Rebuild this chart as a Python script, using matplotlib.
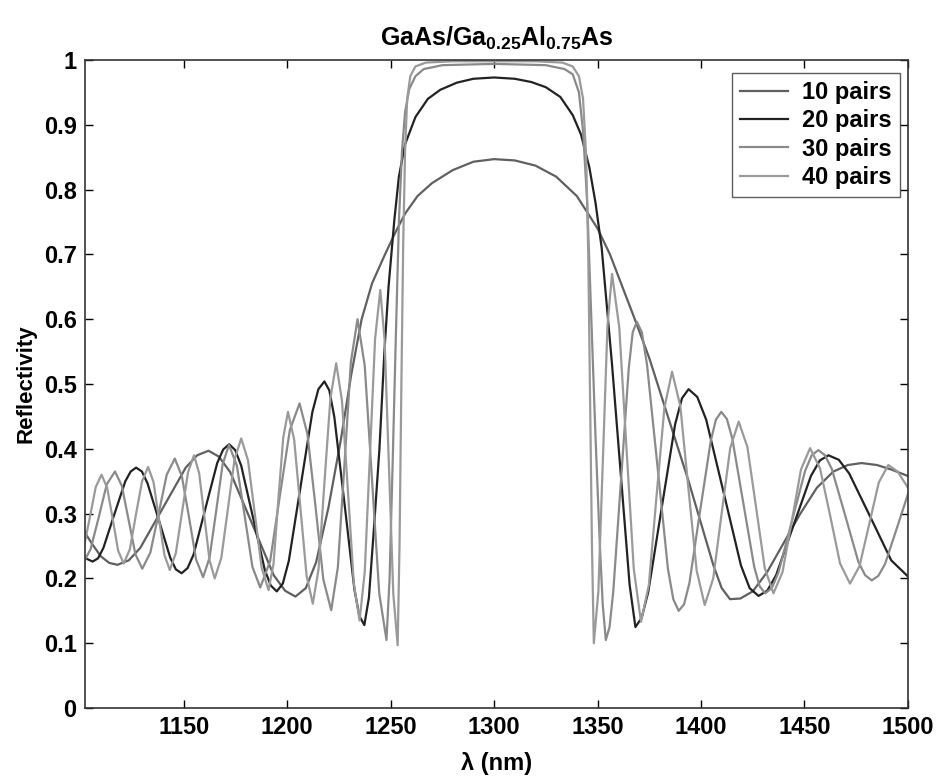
import matplotlib
matplotlib.use("Agg")
import matplotlib.pyplot as plt

plt.rcParams['font.family'] = ['Liberation Sans', 'DejaVu Sans']
plt.rcParams['font.weight'] = 'bold'
plt.rcParams['mathtext.fontset'] = 'custom'
plt.rcParams['mathtext.rm'] = 'Liberation Sans:bold'
plt.rcParams['mathtext.bf'] = 'Liberation Sans:bold'

# (wavelength nm, reflectivity)
pts_10 = [(1102, 0.272), (1106, 0.252), (1110, 0.234), (1114, 0.224), (1118, 0.221),
          (1123.5, 0.228), (1129, 0.247), (1140, 0.309), (1151, 0.371), (1156.5, 0.390),
          (1162, 0.397), (1167, 0.388), (1172.5, 0.364), (1183, 0.285), (1193.5, 0.205),
          (1199, 0.181), (1204, 0.172), (1209, 0.185), (1214, 0.225), (1220, 0.31),
          (1226, 0.415), (1231, 0.515), (1236, 0.60), (1241, 0.655), (1247, 0.698),
          (1252, 0.732), (1257, 0.763), (1263, 0.79), (1270, 0.81), (1280, 0.83),
          (1290, 0.843), (1300, 0.847), (1310, 0.845), (1320, 0.837), (1330, 0.82),
          (1340, 0.79), (1350, 0.74), (1356, 0.70), (1362, 0.65), (1368, 0.60),
          (1375, 0.54), (1382, 0.47), (1388, 0.41), (1394, 0.35), (1400, 0.285),
          (1406, 0.22), (1410, 0.185), (1414, 0.168), (1419, 0.169), (1425, 0.18),
          (1432, 0.21), (1440, 0.255), (1448, 0.30), (1456, 0.34), (1464, 0.365),
          (1471, 0.375), (1477.6, 0.378), (1485, 0.375), (1492, 0.368), (1500, 0.358)]

pts_20 = [(1102, 0.232), (1106, 0.226), (1108.6, 0.231), (1111.2, 0.247), (1116.5, 0.299),
          (1121.8, 0.35), (1124.4, 0.365), (1127, 0.371), (1129.8, 0.365), (1132.5, 0.347),
          (1138, 0.290), (1143.5, 0.232), (1146.2, 0.214), (1149, 0.208), (1151.9, 0.216),
          (1154.8, 0.237), (1160.5, 0.308), (1166.2, 0.378), (1169.1, 0.399), (1172, 0.407),
          (1174.9, 0.398), (1177.8, 0.374), (1183.5, 0.294), (1189.2, 0.213), (1192.1, 0.189),
          (1195, 0.18), (1197.9, 0.192), (1200.8, 0.227), (1206.5, 0.342), (1212.2, 0.457),
          (1215.1, 0.492), (1218, 0.504), (1220.4, 0.49), (1222.8, 0.449), (1227.7, 0.316),
          (1232.5, 0.183), (1234.9, 0.142), (1237.3, 0.128), (1239.5, 0.17), (1242, 0.28),
          (1244.6, 0.40), (1247, 0.55), (1249, 0.65), (1251.8, 0.753), (1254, 0.82),
          (1257, 0.87), (1262, 0.912), (1268, 0.94), (1274, 0.954), (1282, 0.965),
          (1290, 0.971), (1300, 0.973), (1310, 0.971), (1318, 0.966), (1325, 0.958),
          (1332, 0.943), (1338, 0.915), (1342, 0.885), (1346, 0.835), (1349, 0.78),
          (1352, 0.71), (1354.5, 0.62), (1357, 0.53), (1360, 0.41), (1363, 0.29),
          (1365.5, 0.19), (1368.3, 0.125), (1371.3, 0.139), (1374.5, 0.179), (1381, 0.309),
          (1387.5, 0.438), (1390.8, 0.478), (1394, 0.492), (1398.2, 0.48), (1402.5, 0.445),
          (1410.9, 0.333), (1419.3, 0.22), (1423.5, 0.185), (1427.8, 0.173), (1432, 0.181),
          (1436.3, 0.205), (1444.7, 0.282), (1453.1, 0.358), (1457.4, 0.382), (1461.6, 0.39),
          (1466.6, 0.383), (1471.6, 0.362), (1481.8, 0.295), (1491.9, 0.228), (1500, 0.203)]

pts_30 = [(1102, 0.227), (1105, 0.245), (1109, 0.295), (1112.8, 0.345), (1116.8, 0.365),
          (1120.1, 0.343), (1123.4, 0.29), (1126.7, 0.237), (1130, 0.215), (1133.9, 0.24),
          (1137.9, 0.30), (1141.8, 0.36), (1145.7, 0.385), (1149.1, 0.358), (1152.6, 0.294),
          (1156, 0.229), (1159.4, 0.202), (1162.5, 0.232), (1165.7, 0.304), (1168.8, 0.376),
          (1171.9, 0.406), (1175.7, 0.374), (1179.5, 0.296), (1183.2, 0.218), (1187, 0.186),
          (1191.8, 0.227), (1196.5, 0.328), (1201.3, 0.429), (1206, 0.47), (1209.8, 0.423),
          (1213.7, 0.311), (1217.5, 0.198), (1221.3, 0.151), (1224.5, 0.217), (1227.7, 0.376),
          (1230.8, 0.534), (1234, 0.60), (1237.5, 0.528), (1241, 0.353), (1244.5, 0.177),
          (1248, 0.105), (1249.5, 0.2), (1251, 0.38), (1252.5, 0.57), (1254, 0.75),
          (1255.5, 0.86), (1257, 0.92), (1259, 0.955), (1262, 0.975), (1266, 0.986),
          (1275, 0.992), (1300, 0.994), (1325, 0.992), (1334, 0.986), (1338, 0.978),
          (1341, 0.95), (1343, 0.89), (1345, 0.78), (1347, 0.60), (1349, 0.42),
          (1351, 0.26), (1352.5, 0.16), (1354, 0.105), (1355.8, 0.125), (1357.6, 0.18),
          (1361.3, 0.35), (1365.1, 0.525), (1367, 0.58), (1369, 0.596), (1371.4, 0.58),
          (1373.9, 0.53), (1379, 0.372), (1384, 0.215), (1386.6, 0.168), (1389.2, 0.15),
          (1391.8, 0.16), (1394.4, 0.193), (1399.5, 0.303), (1404.7, 0.412), (1407.2, 0.445),
          (1409.8, 0.457), (1412.5, 0.446), (1415.1, 0.416), (1420.4, 0.317), (1425.7, 0.218),
          (1428.3, 0.188), (1431, 0.177), (1434.2, 0.185), (1437.4, 0.209), (1443.9, 0.288),
          (1450.3, 0.366), (1453.5, 0.39), (1456.7, 0.398), (1459.9, 0.39), (1463.2, 0.369),
          (1469.6, 0.298), (1476, 0.226), (1479.3, 0.205), (1482.5, 0.197), (1485.7, 0.204),
          (1488.9, 0.222), (1495.3, 0.284), (1500, 0.33)]

pts_40 = [(1102, 0.252), (1104.7, 0.295), (1107.5, 0.341), (1110.3, 0.36), (1113, 0.34),
          (1115.7, 0.292), (1118.3, 0.243), (1121, 0.223), (1124, 0.245), (1126.9, 0.298),
          (1129.9, 0.35), (1132.8, 0.372), (1135.4, 0.349), (1138, 0.293), (1140.7, 0.236),
          (1143.3, 0.213), (1146.2, 0.239), (1149.2, 0.302), (1152.1, 0.364), (1155, 0.39),
          (1157.5, 0.362), (1160, 0.295), (1162.5, 0.228), (1165, 0.20), (1168.2, 0.232),
          (1171.4, 0.308), (1174.6, 0.384), (1177.8, 0.416), (1181.1, 0.382), (1184.4, 0.299),
          (1187.7, 0.216), (1191, 0.182), (1193.4, 0.222), (1195.7, 0.32), (1198.1, 0.417),
          (1200.4, 0.457), (1203.4, 0.414), (1206.4, 0.309), (1209.4, 0.204), (1212.4, 0.161),
          (1215.2, 0.215), (1218, 0.347), (1220.9, 0.478), (1223.7, 0.532), (1226.5, 0.474),
          (1229.4, 0.334), (1232.2, 0.193), (1235, 0.135), (1237.5, 0.21), (1240, 0.39),
          (1242.5, 0.57), (1245, 0.645), (1247.1, 0.568), (1249.2, 0.372), (1251.3, 0.176),
          (1253.4, 0.097), (1254.3, 0.25), (1255.2, 0.50), (1256.1, 0.72), (1257, 0.86),
          (1258, 0.94), (1259.5, 0.975), (1262, 0.99), (1267, 0.996), (1280, 0.998),
          (1300, 0.998), (1320, 0.998), (1333, 0.996), (1338, 0.99), (1341, 0.975),
          (1343, 0.94), (1344.5, 0.85), (1345.5, 0.70), (1346.5, 0.45), (1347.3, 0.25),
          (1348.2, 0.10), (1350.4, 0.18), (1352.6, 0.385), (1354.8, 0.59), (1357, 0.67),
          (1360.5, 0.587), (1364, 0.40), (1367.5, 0.215), (1371, 0.133), (1374.8, 0.19),
          (1378.5, 0.327), (1382.3, 0.463), (1386, 0.519), (1390, 0.466), (1393.9, 0.339),
          (1397.9, 0.212), (1401.8, 0.159), (1405.9, 0.20), (1410, 0.301), (1414.1, 0.401),
          (1418.2, 0.442), (1422.4, 0.403), (1426.6, 0.31), (1430.8, 0.216), (1435, 0.177),
          (1439.4, 0.21), (1443.9, 0.289), (1448.3, 0.368), (1452.7, 0.401), (1457.5, 0.37),
          (1462.4, 0.297), (1467.2, 0.223), (1472, 0.192), (1476.6, 0.219), (1481.3, 0.284),
          (1485.9, 0.348), (1490.5, 0.375), (1495, 0.365), (1500, 0.34)]

labels = ['10 pairs', '20 pairs', '30 pairs', '40 pairs']
colors = ['#606060', '#222222', '#8a8a8a', '#9a9a9a']

fig = plt.figure(figsize=(9.4, 7.79), dpi=100)
ax = fig.add_axes([0.0904, 0.0911, 0.8755, 0.8319])

for pts, lab, c in zip([pts_10, pts_20, pts_30, pts_40], labels, colors):
    wl, r = zip(*pts)
    ax.plot(wl, r, color=c, lw=1.6, label=lab)

ax.set_xlim(1102.3, 1500)
ax.set_ylim(0, 1)
ax.set_xticks(range(1150, 1501, 50))
ax.set_yticks([i / 10 for i in range(11)])
ax.set_yticklabels(['0', '0.1', '0.2', '0.3', '0.4', '0.5', '0.6', '0.7', '0.8', '0.9', '1'])
ax.tick_params(direction='in', top=True, right=True, length=6, width=1, labelsize=17, pad=6)
for s in ax.spines.values():
    s.set_linewidth(1.2)
    s.set_color('#333333')

ax.set_xlabel('λ (nm)', fontsize=17, fontweight='bold', labelpad=9)
ax.set_ylabel('Reflectivity', fontsize=16, fontweight='bold', labelpad=5)
ax.set_title(r'GaAs/Ga$_{0.25}$Al$_{0.75}$As', fontsize=18, fontweight='bold', pad=10)

leg = ax.legend(loc='upper right', bbox_to_anchor=(0.990, 0.980), borderaxespad=0,
                fontsize=17, frameon=True, fancybox=False, edgecolor='#333333',
                handlelength=2.0, handletextpad=0.6, labelspacing=0.22, borderpad=0.35)
leg.get_frame().set_linewidth(1.0)

fig.savefig('out.png', dpi=100)
